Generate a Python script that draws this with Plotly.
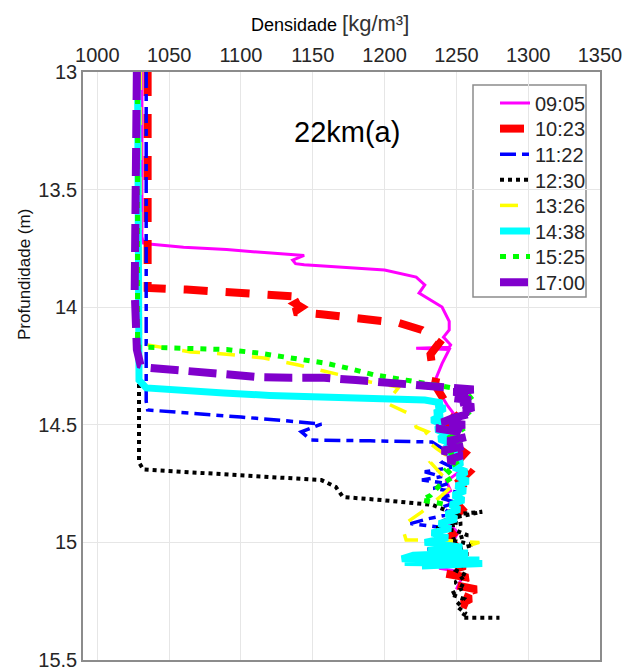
import plotly.graph_objects as go

# Density (kg/m3) and depth (m) profiles for station 22km(a)
times = ["09:05", "10:23", "11:22", "12:30", "13:26", "14:38", "15:25", "17:00"]

dens_0905 = [1031, 1031, 1032, 1034, 1060, 1090, 1121, 1144, 1136, 1138, 1144, 1170, 1200, 1222, 1228,
             1224, 1240, 1245, 1245, 1241, 1246, 1245, 1222, 1245, 1240, 1236, 1235, 1240,
             1244, 1249, 1245, 1250, 1244, 1251, 1246, 1252, 1243, 1246, 1241, 1247, 1250, 1245,
             1251, 1247, 1253, 1249, 1238, 1248, 1253, 1250]
prof_0905 = [13.0, 13.70, 13.727, 13.73, 13.745, 13.755, 13.77, 13.78, 13.80, 13.815, 13.82, 13.83, 13.842,
             13.872, 13.905, 13.94, 13.999, 14.06, 14.097, 14.127, 14.16, 14.17, 14.175, 14.18, 14.24, 14.30,
             14.34, 14.38, 14.42, 14.46, 14.50, 14.54, 14.58, 14.62, 14.66, 14.70, 14.74, 14.78, 14.80,
             14.84, 14.88, 14.92, 14.96, 15.0, 15.04, 15.08, 15.11, 15.12, 15.16, 15.20]

dens_1023 = [1035, 1035, 1062, 1088, 1121, 1140, 1144, 1138, 1142, 1137, 1156, 1191, 1210, 1226, 1238,
             1232, 1233, 1236, 1235, 1242, 1243, 1249, 1244, 1252, 1247, 1256, 1250, 1259, 1252, 1256,
             1248, 1254, 1247, 1252, 1245, 1250, 1243, 1256, 1240, 1258, 1248, 1264, 1252, 1260, 1254,
             1258]
prof_1023 = [13.0, 13.918, 13.925, 13.935, 13.94, 13.955, 13.965, 13.985, 14.0, 14.02, 14.03, 14.054,
             14.067, 14.097, 14.152, 14.20, 14.246, 14.30, 14.33, 14.40, 14.42, 14.46, 14.50, 14.54,
             14.58, 14.62, 14.66, 14.70, 14.74, 14.78, 14.82, 14.86, 14.90, 14.94, 14.98, 15.02, 15.06,
             15.10, 15.13, 15.15, 15.18, 15.20, 15.22, 15.24, 15.26, 15.27]

dens_1122 = [1034, 1034, 1035, 1070, 1100, 1130, 1156, 1142, 1149, 1190, 1233, 1240, 1246, 1240, 1247,
             1228, 1240, 1226, 1244, 1234, 1254, 1238, 1250, 1240, 1246, 1230, 1218, 1244, 1236, 1242,
             1230, 1248]
prof_1122 = [13.0, 14.40, 14.437, 14.452, 14.467, 14.482, 14.497, 14.53, 14.565, 14.568, 14.573, 14.60,
             14.63, 14.66, 14.68, 14.70, 14.72, 14.735, 14.75, 14.77, 14.79, 14.81, 14.83, 14.85, 14.88,
             14.90, 14.92, 14.94, 14.97, 15.0, 15.03, 15.05]

dens_1230 = [1029, 1029, 1032, 1060, 1093, 1125, 1156, 1166, 1171, 1198, 1233, 1250, 1268, 1252, 1240,
             1254, 1236, 1250, 1258, 1246, 1262, 1250, 1258, 1248, 1256, 1250, 1257, 1249, 1256, 1246,
             1255, 1250, 1256, 1254, 1262, 1280]
prof_1230 = [13.0, 14.66, 14.69, 14.70, 14.71, 14.72, 14.735, 14.764, 14.807, 14.82, 14.84, 14.88, 14.87,
             14.89, 14.91, 14.92, 14.94, 14.95, 14.97, 14.99, 15.01, 15.03, 15.05, 15.07, 15.09, 15.12,
             15.14, 15.17, 15.19, 15.22, 15.24, 15.27, 15.30, 15.32, 15.32, 15.32]

dens_1326 = [1030, 1030, 1034, 1065, 1090, 1116, 1140, 1170, 1190, 1210, 1201, 1219, 1222, 1230, 1226,
             1236, 1243, 1232, 1238, 1247, 1240, 1226, 1212, 1215, 1236, 1266, 1243]
prof_1326 = [13.0, 14.16, 14.16, 14.19, 14.20, 14.216, 14.246, 14.29, 14.318, 14.34, 14.407, 14.458,
             14.51, 14.53, 14.55, 14.60, 14.63, 14.66, 14.70, 14.76, 14.80, 14.87, 14.93, 14.99, 14.99,
             15.0, 15.04]

dens_1438 = [1028, 1028, 1029, 1034, 1060, 1088, 1120, 1158, 1200, 1228, 1240, 1236, 1242, 1235, 1240,
             1233, 1241, 1236, 1244, 1238, 1247, 1242, 1250, 1245, 1254, 1248, 1257, 1251, 1258, 1250,
             1256, 1248, 1255, 1246, 1252, 1243, 1250, 1238, 1246, 1233, 1244, 1228, 1254, 1230, 1258,
             1220, 1212, 1266, 1214, 1268, 1226]
prof_1438 = [13.0, 14.225, 14.31, 14.343, 14.355, 14.365, 14.375, 14.382, 14.39, 14.395, 14.407, 14.42,
             14.43, 14.45, 14.46, 14.48, 14.50, 14.52, 14.54, 14.56, 14.58, 14.60, 14.62, 14.64, 14.66,
             14.68, 14.70, 14.72, 14.74, 14.76, 14.78, 14.80, 14.82, 14.84, 14.86, 14.88, 14.90, 14.92,
             14.94, 14.96, 14.98, 15.00, 15.02, 15.035, 15.045, 15.055, 15.07, 15.075, 15.085, 15.09,
             15.10]

dens_1525 = [1028, 1028, 1034, 1065, 1090, 1112, 1135, 1158, 1175, 1193, 1215, 1233, 1247, 1258, 1262,
             1254, 1258, 1249, 1254, 1246, 1252, 1246, 1250, 1243, 1248, 1238, 1232, 1226, 1244]
prof_1525 = [13.0, 14.17, 14.17, 14.173, 14.18, 14.195, 14.215, 14.237, 14.26, 14.288, 14.31, 14.33,
             14.343, 14.37, 14.40, 14.42, 14.45, 14.48, 14.52, 14.55, 14.58, 14.62, 14.66, 14.69, 14.72,
             14.76, 14.80, 14.82, 14.84]

dens_1700 = [1027.5, 1027, 1028, 1026.5, 1026, 1027.5, 1030, 1037, 1060, 1088, 1112, 1135, 1158, 1180,
             1205, 1228, 1242, 1256, 1262, 1248, 1258, 1246, 1260, 1250, 1262, 1255, 1262, 1248, 1240,
             1256, 1236, 1252, 1258, 1244, 1256, 1240, 1254, 1244, 1256]
prof_1700 = [13.0, 13.3, 13.5, 13.76, 13.93, 14.18, 14.245, 14.258, 14.27, 14.28, 14.297, 14.30, 14.30,
             14.31, 14.322, 14.33, 14.335, 14.34, 14.35, 14.36, 14.37, 14.385, 14.395, 14.41, 14.425,
             14.44, 14.45, 14.47, 14.49, 14.50, 14.515, 14.53, 14.55, 14.57, 14.59, 14.61, 14.63, 14.65,
             14.66]

series = [
    (dens_0905, prof_0905, "#ff00ff", 3, "solid"),
    (dens_1023, prof_1023, "#ff0000", 8, "24px,18px"),
    (dens_1122, prof_1122, "#0000ff", 3.5, "16px,6px,7px,6px"),
    (dens_1230, prof_1230, "#000000", 4, "4px,4px"),
    (dens_1326, prof_1326, "#ffff00", 3.5, "18px,17px"),
    (dens_1438, prof_1438, "#00ffff", 7, "solid"),
    (dens_1525, prof_1525, "#00ff00", 5, "6px,7px"),
    (dens_1700, prof_1700, "#8000cc", 8, "28px,10px"),
]

FONT = "Liberation Sans, Arial, sans-serif"
W, H = 624, 670
L, R, T, B = 83, 24, 72, 10
pw, ph = W - L - R, H - T - B


def px_to_paper_x(px):
    return (px - L) / pw


def px_to_paper_y(py):
    return (H - B - py) / ph


fig = go.Figure()
layout_legends = {}
for i, (name, (d, z, color, width, dash)) in enumerate(zip(times, series)):
    key = "legend" if i == 0 else f"legend{i + 1}"
    fig.add_trace(go.Scatter(
        x=d, y=z, mode="lines", name=name, legend=key, showlegend=True,
        line=dict(color=color, width=width, dash=dash),
    ))
    layout_legends[key] = dict(
        x=px_to_paper_x(495), xanchor="left",
        y=px_to_paper_y(103 + 25.6 * i), yanchor="middle",
        bgcolor="rgba(0,0,0,0)", borderwidth=0,
        font=dict(family=FONT, size=20, color="#262626"),
        tracegroupgap=0, visible=True,
    )

fig.update_layout(
    width=W, height=H, showlegend=True,
    margin=dict(l=L, r=R, t=T, b=B, autoexpand=False),
    paper_bgcolor="white", plot_bgcolor="white",
    font=dict(family=FONT, size=20, color="#262626"),
    **layout_legends,
)

fig.update_xaxes(
    range=[990, 1350], side="top", tickvals=[1000, 1050, 1100, 1150, 1200, 1250, 1300, 1350],
    showgrid=True, gridcolor="#e6e6e6", gridwidth=1, zeroline=False, automargin=False,
    showline=True, linecolor="#8c8c8c", linewidth=1.5, mirror=True, ticks="",
    ticklabeloverflow="allow",
    tickfont=dict(family=FONT, size=20, color="#262626"),
)
fig.update_yaxes(
    range=[15.5, 13], tickvals=[13, 13.5, 14, 14.5, 15, 15.5],
    showgrid=True, gridcolor="#e6e6e6", gridwidth=1, zeroline=False, automargin=False,
    showline=True, linecolor="#8c8c8c", linewidth=1.5, mirror=True, ticks="",
    ticklabeloverflow="allow",
    tickfont=dict(family=FONT, size=20, color="#262626"),
)

# Legend frame (above the grid, below the traces and legend entries)
fig.add_shape(type="rect", xref="paper", yref="paper",
              x0=px_to_paper_x(473), x1=px_to_paper_x(586),
              y0=px_to_paper_y(297), y1=px_to_paper_y(85),
              line=dict(color="#8c8c8c", width=1.5), fillcolor="white", layer="between")

# Titles and panel label
fig.add_annotation(text="Densidade <span style='font-size:22px;color:#333333'>[kg/m³]</span>",
                   xref="paper", yref="paper",
                   x=px_to_paper_x(330), y=px_to_paper_y(23), showarrow=False,
                   xanchor="center", yanchor="middle",
                   font=dict(family=FONT, size=18, color="#000000"))
fig.add_annotation(text="Profundidade (m)", xref="paper", yref="paper",
                   x=px_to_paper_x(24), y=px_to_paper_y(275), showarrow=False, textangle=-90,
                   xanchor="center", yanchor="middle",
                   font=dict(family=FONT, size=17, color="#111111"))
fig.add_annotation(text="22km(a)", xref="paper", yref="paper",
                   x=px_to_paper_x(347), y=px_to_paper_y(132), showarrow=False,
                   xanchor="center", yanchor="middle",
                   font=dict(family=FONT, size=29, color="#000000"))

fig.write_html("out.html")
